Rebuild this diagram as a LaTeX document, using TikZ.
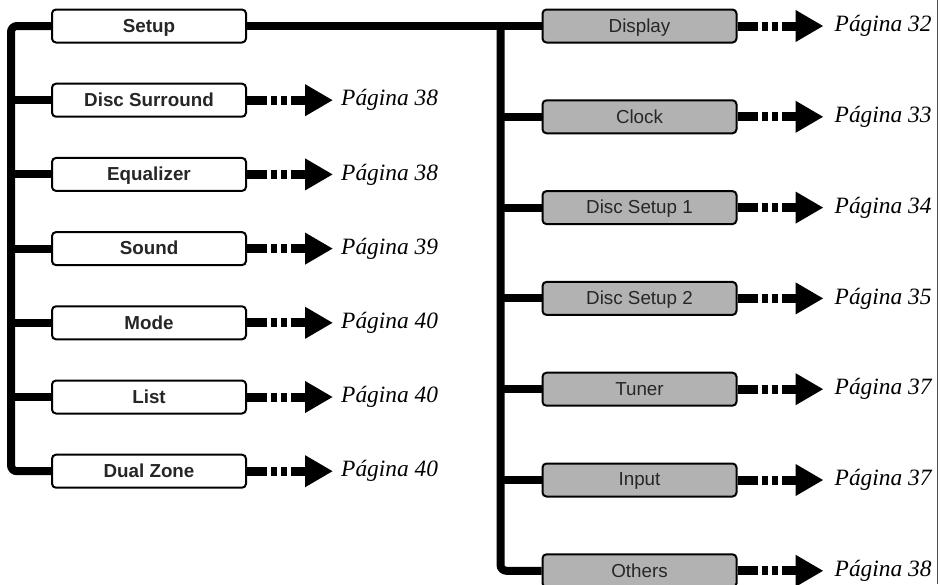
\documentclass[tikz,border=0pt]{standalone}
\usepackage{fontspec}
\setmainfont{Liberation Serif}
\setsansfont{Liberation Sans}
\usetikzlibrary{arrows.meta, positioning}

\begin{document}
\begin{tikzpicture}[
    x=1pt, y=-1pt,
    menu/.style={rectangle, draw=black, line width=2pt, fill=white, rounded corners=4pt, minimum width=194pt, minimum height=33pt, inner sep=0pt, text depth=1pt, text=black!85, font=\sffamily\bfseries\fontsize{18.8}{22}\selectfont},
    submenu/.style={menu, fill=gray!60, font=\sffamily\fontsize{18.8}{22}\selectfont},
    bus/.style={line width=8pt, rounded corners=6pt},
    stub/.style={line width=9pt},
    dots/.style={line width=9pt, dash pattern=on 6pt off 4pt},
    jump/.style={line width=9pt, -{Triangle[length=28pt, width=30pt]}},
    page/.style={anchor=west, inner sep=0pt, font=\itshape\fontsize{23.4}{27}\selectfont}
]
\useasboundingbox (0,0) rectangle (940,584);

% left column
\node[menu] (setup) at (149,26) {Setup};
\node[menu, below=39.2pt of setup] (surround) {Disc Surround};
\node[menu, below=39.2pt of surround] (equalizer) {Equalizer};
\node[menu, below=39.2pt of equalizer] (sound) {Sound};
\node[menu, below=39.2pt of sound] (mode) {Mode};
\node[menu, below=39.2pt of mode] (list) {List};
\node[menu, below=39.2pt of list] (dualzone) {Dual Zone};

% right column
\node[submenu] (display) at (639.5,26) {Display};
\node[submenu, below=55.8pt of display] (clock) {Clock};
\node[submenu, below=55.8pt of clock] (discone) {Disc Setup 1};
\node[submenu, below=55.8pt of discone] (disctwo) {Disc Setup 2};
\node[submenu, below=55.8pt of disctwo] (tuner) {Tuner};
\node[submenu, below=55.8pt of tuner] (input) {Input};
\node[submenu, below=55.8pt of input] (others) {Others};

% buses
\draw[bus] (setup.west) -- ++(-40,0) |- (dualzone.west);
\foreach \b in {surround, equalizer, sound, mode, list}
    \draw[bus] (\b.west) -- ++(-40,0);
\draw[bus] (setup.east) -- (display.west);
\coordinate (rtop) at ([xshift=-41pt]display.west);
\draw[bus] (rtop) |- (others.west);
\foreach \b in {clock, discone, disctwo, tuner, input}
    \draw[bus] (\b.west) -- (\b.west -| rtop);

% page references
\foreach \b/\p/\d in {surround/38/94, equalizer/38/94, sound/39/94, mode/40/94, list/40/94, dualzone/40/94,
                      display/32/97, clock/33/97, discone/34/97, disctwo/35/97, tuner/37/97, input/37/97, others/38/97} {
    \draw[stub] (\b.east) -- ++(20,0);
    \draw[dots] ([xshift=24pt]\b.east) -- ++(18,0);
    \coordinate (\b-tip) at ([xshift=86pt]\b.east);
    \draw[jump] ([xshift=44pt]\b.east) -- (\b-tip);
    \node[page] (\b-pg) at ([xshift=\d pt]\b.east) {Página \p};
}

% frame edge
\draw[gray!60!black, line width=1.5pt] (937.5,0) -- (937.5,584);

\end{tikzpicture}
\end{document}
